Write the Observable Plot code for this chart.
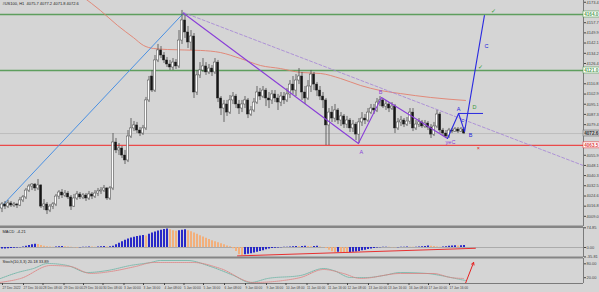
<!DOCTYPE html>
<html><head><meta charset="utf-8">
<script src="https://cdn.jsdelivr.net/npm/d3@7"></script>
<script src="https://cdn.jsdelivr.net/npm/@observablehq/plot@0.6"></script>
<style>
html,body{margin:0;padding:0;background:#d5d5d5;}
#chart{position:relative;width:599px;height:292px;background:#d5d5d5;overflow:hidden;}
#chart svg{position:absolute;left:0;overflow:visible;}
</style></head><body><div id="chart"></div>
<script>
// ---------- DATA ----------
const title = "#US100, H1  4075.7 4077.2 4071.8 4072.6";
const opens = [4015.0,4018.1,4016.5,4018.9,4017.3,4018.1,4017.3,4021.2,4023.5,4028.8,
4031.9,4033.4,4030.4,4032.7,4016.5,4018.1,4013.5,4016.5,4018.1,4024.2,
4027.3,4025.0,4026.5,4023.5,4016.5,4022.7,4025.8,4023.5,4025.0,4022.7,
4025.8,4024.2,4026.5,4028.1,4028.8,4030.4,4022.7,4030.4,4065.7,4059.6,
4061.1,4055.7,4051.9,4070.3,4076.5,4078.8,4074.9,4072.6,4076.5,4098.0,
4116.4,4105.6,4128.7,4136.4,4132.5,4128.7,4125.6,4123.3,4127.1,4124.1,
4144.0,4159.4,4150.2,4142.5,4147.1,4104.1,4117.2,4121.0,4124.1,4119.5,
4122.5,4119.5,4127.1,4099.5,4091.8,4094.9,4088.7,4098.0,4101.0,4094.9,
4091.8,4094.9,4098.0,4087.2,4090.3,4096.4,4104.1,4101.0,4105.6,4099.5,
4098.0,4102.6,4099.5,4096.4,4101.0,4098.0,4102.6,4110.2,4105.6,4113.3,
4116.4,4104.1,4099.5,4108.7,4117.9,4110.2,4105.6,4101.0,4098.0,4078.8,
4088.7,4084.1,4090.3,4082.6,4085.7,4079.5,4082.6,4076.5,4079.5,4071.8,
4081.1,4084.1,4082.6,4088.7,4091.8,4090.3,4096.4,4098.0,4093.3,4094.9,
4091.8,4093.3,4076.5,4081.1,4082.6,4079.5,4081.8,4088.7,4076.5,4079.5,
4081.1,4078.0,4080.3,4077.2,4071.8,4078.0,4087.2,4074.9,4072.6,4070.3,
4074.9,4074.1,4075.7,4074.1,4075.7];
const highs = [4019.6,4020.4,4021.2,4020.4,4019.6,4018.9,4023.5,4025.0,4030.4,4033.4,
4034.2,4034.2,4037.3,4033.4,4021.9,4019.6,4018.1,4019.6,4025.8,4028.8,
4029.6,4028.8,4028.1,4025.0,4025.8,4028.1,4027.3,4026.5,4026.5,4028.1,
4027.3,4028.8,4030.4,4031.1,4032.7,4031.1,4031.9,4072.6,4068.8,4064.9,
4062.6,4059.6,4074.9,4084.1,4081.8,4081.1,4077.2,4078.8,4100.3,4116.4,
4121.0,4132.5,4141.0,4139.4,4134.8,4131.0,4128.7,4130.2,4129.4,4151.7,
4167.1,4163.2,4154.8,4151.7,4149.4,4121.0,4127.1,4130.2,4127.1,4125.6,
4124.8,4130.2,4128.7,4101.0,4098.0,4098.0,4101.8,4104.1,4102.6,4098.0,
4098.0,4101.0,4099.5,4093.3,4099.5,4108.7,4107.2,4108.7,4107.2,4104.1,
4105.6,4105.6,4102.6,4104.1,4104.1,4107.2,4113.3,4116.4,4117.9,4122.5,
4119.5,4108.7,4113.3,4121.0,4119.5,4111.8,4108.7,4104.1,4099.5,4091.8,
4093.3,4094.9,4091.8,4088.7,4087.2,4085.7,4084.1,4082.6,4081.1,4084.1,
4088.7,4087.2,4091.8,4094.9,4094.9,4099.5,4101.0,4099.5,4098.0,4096.4,
4096.4,4094.9,4084.1,4085.7,4084.1,4084.9,4091.8,4091.8,4082.6,4084.1,
4082.6,4082.6,4081.8,4079.5,4081.1,4090.3,4088.7,4076.5,4074.9,4076.5,
4076.5,4077.2,4077.2,4077.2,4077.2];
const lows = [4011.9,4014.2,4015.0,4015.8,4015.8,4015.0,4016.5,4019.6,4021.9,4027.3,
4028.8,4028.1,4028.8,4015.0,4013.5,4010.4,4011.9,4014.2,4016.5,4021.9,
4022.7,4023.5,4021.9,4013.5,4015.8,4021.2,4021.9,4021.9,4020.4,4021.2,
4021.9,4022.7,4024.2,4025.8,4027.3,4021.2,4021.2,4028.8,4057.2,4055.7,
4053.4,4048.8,4050.3,4068.8,4074.1,4072.6,4070.3,4071.1,4074.9,4096.4,
4104.1,4104.1,4127.1,4130.2,4126.4,4123.3,4121.0,4121.0,4121.8,4122.5,
4141.0,4145.6,4137.9,4136.4,4099.5,4101.8,4114.9,4119.5,4117.2,4117.9,
4116.4,4117.9,4096.4,4086.4,4081.1,4085.7,4087.2,4094.9,4091.8,4087.2,
4088.7,4091.8,4084.1,4085.7,4088.7,4094.9,4098.0,4099.5,4093.3,4091.8,
4094.9,4096.4,4090.3,4093.3,4094.9,4096.4,4099.5,4102.6,4101.0,4110.2,
4098.0,4094.9,4098.0,4104.1,4105.6,4101.0,4098.0,4091.8,4063.4,4063.4,
4081.1,4081.1,4079.5,4078.0,4076.5,4076.5,4073.4,4073.4,4067.2,4064.9,
4078.0,4079.5,4081.1,4087.2,4087.2,4088.7,4093.3,4091.8,4090.3,4088.7,
4090.3,4072.6,4074.9,4078.0,4077.2,4078.0,4079.5,4074.1,4074.9,4077.2,
4076.5,4076.5,4074.9,4068.8,4070.3,4076.5,4072.6,4070.3,4068.8,4068.8,
4072.6,4073.4,4072.6,4073.4,4071.8];
const closes = [4018.1,4016.5,4018.9,4017.3,4018.1,4017.3,4021.2,4023.5,4028.8,4031.9,
4033.4,4030.4,4032.7,4016.5,4018.1,4013.5,4016.5,4018.1,4024.2,4027.3,
4025.0,4026.5,4023.5,4016.5,4022.7,4025.8,4023.5,4025.0,4022.7,4025.8,
4024.2,4026.5,4028.1,4028.8,4030.4,4022.7,4030.4,4065.7,4059.6,4061.1,
4055.7,4051.9,4070.3,4076.5,4078.8,4074.9,4072.6,4076.5,4098.0,4113.3,
4105.6,4128.7,4136.4,4132.5,4128.7,4125.6,4123.3,4127.1,4124.1,4144.0,
4159.4,4150.2,4142.5,4147.1,4104.1,4117.2,4121.0,4124.1,4119.5,4122.5,
4119.5,4127.1,4099.5,4091.8,4094.9,4088.7,4098.0,4101.0,4094.9,4091.8,
4094.9,4098.0,4087.2,4090.3,4096.4,4104.1,4101.0,4105.6,4099.5,4098.0,
4102.6,4099.5,4096.4,4101.0,4098.0,4102.6,4110.2,4105.6,4113.3,4116.4,
4104.1,4099.5,4108.7,4117.9,4110.2,4105.6,4101.0,4098.0,4078.8,4088.7,
4084.1,4090.3,4082.6,4085.7,4079.5,4082.6,4076.5,4079.5,4071.8,4081.1,
4084.1,4082.6,4088.7,4091.8,4090.3,4096.4,4098.0,4093.3,4094.9,4091.8,
4093.3,4076.5,4081.1,4082.6,4079.5,4081.8,4088.7,4076.5,4079.5,4081.1,
4078.0,4080.3,4077.2,4071.8,4078.0,4087.2,4074.9,4072.6,4070.3,4074.9,
4074.1,4075.7,4074.1,4075.7,4072.6];

// moving average curve: [bar, price]
const maBars   = [26.8, 32.8, 38.5, 43.8, 47.2, 50.5, 55.2, 66.2, 72.8, 79.5, 86.2, 92.8, 99.5, 106.2, 112.8, 119.5, 126.2, 132.8, 142.8, 154.5];
const maValues = [4177.8,4167.1,4155.6,4146.3,4140.2,4137.9,4137.1,4136.4,4134.8,4130.2,4124.8,4122.5,4119.5,4118.7,4114.9,4109.5,4105.6,4103.3,4100.3,4098.0];

const greenLevels = [4164.0, 4121.0];
const redLevels = [4063.5];
const bidPrice = 4072.6;
const priceTicks = [4173.4,4157.7,4149.9,4142.1,4134.2,4126.4,4110.8,4102.9,4095.1,4087.3,4079.4,4055.9,4048.1,4040.3,4032.5,4024.6,4016.8,4009.0];

// drawn trend lines (bar, price)
const blueTrendBars = [-0.5, 60.5], blueTrendPrices = [4015.8, 4165.0];
const purpleBars = [60.5, 118.8, 126.5, 148.5], purplePrices = [4165.0, 4064.9, 4100.3, 4068.8];
const dashBars = [60.5, 193.8], dashPrices = [4165.5, 4048.0];
const waveBars = [148.5, 152.2, 154.2, 160.8], wavePrices = [4068.8, 4088.0, 4074.1, 4163.2];
const waveFlatBars = [152.2, 160.2], waveFlatPrice = 4088.0;

const labelText   = ["A", "B", "yeC", "A", "c", "B", "D", "C", "✓", "✓", "×"];
const labelBars   = [119.8, 126.2, 149.5, 152.2, 153.5, 156.2, 157.5, 161.5, 163.8, 159.5, 158.8];
const labelPrices = [4058.0, 4104.1, 4065.7, 4091.0, 4082.6, 4071.1, 4092.6, 4139.4, 4166.3, 4123.3, 4061.1];
const labelColors = ["#8a3fd8","#8a3fd8","#8a3fd8","#2222dd","#2222dd","#2222dd","#3a9a3a","#2222dd","#2e9a2e","#2e9a2e","#e02020"];

// oscillator histogram
const aoValues = [-6,-5.5,-5,-4,-3,-2,-1,2,5,8,
10,12,11,8,5,3,2,1,2,3,
4,3,2,1,-1,-2,-1,0.5,1,2,
1.5,1,2,3,4,2,3,5,10,16,
22,28,32,36,39,42,44,46,44,50,
55,59,63,66,68,70,67,64,62,64,
66,67,64,60,55,50,45,40,35,30,
26,22,18,14,10,6,3,-5,-15,-28,
-30,-28,-26,-24,-21,-18,-15,-12,-9,-6,
-4,-3,-2,-1,0.5,1,2,3,4,3,
4,5,4,3,4,5,2,0,-4,-10,
-16,-20,-18,-21,-22,-23,-20,-18,-17,-15,
-12,-10,-8,-6,-4,-2,-1,0.5,1,0.5,
-0.5,-1,-0.5,0.5,1,2,1,0.5,1,2,
3,4,6,5,4,2,1,2,3,5,
6,7,6,7,8];
const aoLabel = "MACD  -4.21";
const aoTicks = [74.85, 0, -35.81];
const divBars = [78.5, 157.8], divValues = [-32, -3];

// stochastic lines
const stMainBars = [-0.5,5.2,10.5,15.2,21.8,28.5,35.2,42.8,49.5,52.8,61.8,69.5,77.2,82.8,88.5,99.5,107.2,110.5,116.2,121.8,127.2,132.8,141.8,146.2,152.8,154.5];
const stMainVals = [16.6,42.5,59.8,81.4,72.8,42.5,51.2,72.8,85.7,94.4,94.4,68.4,29.6,-0.7,16.6,29.6,59.8,51.2,20.9,20.9,29.6,42.5,38.2,29.6,12.3,8.0];
const stSigBars = [-0.5,6.2,16.2,22.8,29.5,36.2,44.5,50.5,63.8,72.8,83.8,93.8,99.5,107.2,113.8,119.5,132.8,143.8,149.5,153.8];
const stSigVals = [0,16.6,72.8,68.4,38.2,46.8,68.4,85.7,85.7,59.8,-0.7,8.0,20.9,55.5,38.2,16.6,38.2,38.2,20.9,16.6];
const stLabel = "Stoch(10,3,3) 20.18 33.89";
const stTicks = [80, 20];
const arrowFrom = [154.5, -4], arrowTo = [157.2, 86];

const dateTickBars = [0,7,13.5,20.5,27,33.5,40.5,47,54,60.5,67,74,81,88,94.5,101.5,108.5,115,122,128.5,135.5,142,149];
const dateLabels = ["27 Dec 2022","27 Dec 16:00","28 Dec 08:00","29 Dec 00:00","29 Dec 16:00","30 Dec 08:00","3 Jan 00:00","3 Jan 16:00","4 Jan 08:00","5 Jan 00:00","5 Jan 16:00","6 Jan 08:00","9 Jan 00:00","9 Jan 16:00","10 Jan 08:00","11 Jan 00:00","11 Jan 16:00","12 Jan 08:00","13 Jan 00:00","13 Jan 16:00","16 Jan 08:00","17 Jan 00:00","17 Jan 16:00"];

// ---------- BUILD ----------
const xDomain = [-0.5, 193.83];
const xEnd = xDomain[1];
const font = "'Liberation Sans', Arial, sans-serif";
const candles = closes.map((c, i) => ({i, o: opens[i], h: highs[i], l: lows[i], c}));
const zip = (xs, ys) => xs.map((x, k) => ({x, y: ys[k]}));
const ma = zip(maBars, maValues);
const labels = labelText.map((t, k) => ({t, x: labelBars[k], y: labelPrices[k], c: labelColors[k]}));
const boxes = [
  {v: greenLevels[0], c: "#4f9a4f", t: "4164.0", bg: "#ffffff"},
  {v: greenLevels[1], c: "#4f9a4f", t: "4121.0", bg: "#ffffff"},
  {v: bidPrice, c: "#777777", t: bidPrice.toFixed(1), bg: "#c8c8c8"},
  {v: redLevels[0], c: "#e03c3c", t: "4063.5", bg: "#ffffff"}
];
const baseStyle = {background: "transparent", color: "#333", fontFamily: font, fontSize: "4px", overflow: "visible"};

const main = Plot.plot({
  width: 599, height: 227, marginTop: 0, marginBottom: 1, marginLeft: 0, marginRight: 16,
  x: {domain: xDomain, axis: null},
  y: {domain: [4001.2, 4174.75], axis: null},
  style: baseStyle,
  marks: [
    Plot.ruleY([bidPrice], {stroke: "#b8b8b8", strokeWidth: 0.8}),
    Plot.ruleY(greenLevels, {stroke: "#5e9e5e", strokeWidth: 1.6}),
    Plot.ruleY(redLevels, {stroke: "#ea4a4a", strokeWidth: 1.3}),
    Plot.line(ma, {x: "x", y: "y", stroke: "#e2806e", strokeWidth: 0.9, curve: "monotone-x", clip: true}),
    Plot.line(zip(blueTrendBars, blueTrendPrices), {x: "x", y: "y", stroke: "#4a90e2", strokeWidth: 1}),
    Plot.line(zip(dashBars, dashPrices), {x: "x", y: "y", stroke: "#a382d6", strokeWidth: 0.8, strokeDasharray: "3,2"}),
    Plot.ruleX(candles, {x: "i", y1: "l", y2: "h", stroke: "#4a4a4a", strokeWidth: 0.8}),
    Plot.rect(candles, {x1: d => d.i - 0.36, x2: d => d.i + 0.36, y1: "o", y2: "c",
      fill: d => d.c >= d.o ? "#ffffff" : "#151515", stroke: "#222", strokeWidth: 0.4}),
    Plot.line(zip(purpleBars, purplePrices), {x: "x", y: "y", stroke: "#8a3fd8", strokeWidth: 1.1}),
    Plot.line(zip(waveBars, wavePrices), {x: "x", y: "y", stroke: "#2a2ae0", strokeWidth: 1.1}),
    Plot.line(zip(waveFlatBars, [waveFlatPrice, waveFlatPrice]), {x: "x", y: "y", stroke: "#2a2ae0", strokeWidth: 1}),
    Plot.text(labels, {x: "x", y: "y", text: "t", fill: "c", fontSize: 5.5}),
    Plot.ruleX([xEnd], {stroke: "#7a7a7a", strokeWidth: 1}),
    Plot.axisY(priceTicks, {anchor: "right", tickSize: 2, tickPadding: 1, fontSize: 4, tickFormat: d => d.toFixed(1), color: "#444"}),
    Plot.rect(boxes, {x1: xEnd, x2: xEnd + 5.4, y1: d => d.v - 2.3, y2: d => d.v + 2.3, fill: "bg", stroke: "c", strokeWidth: 0.6}),
    Plot.text(boxes, {x: xEnd + 0.25, y: "v", text: "t", fill: d => d.c === "#777777" ? "#333" : d.c, textAnchor: "start", fontSize: 4.6, fontWeight: "bold"}),
    Plot.ruleY([4001.2], {stroke: "#858585", strokeWidth: 2}),
    Plot.text([title], {frameAnchor: "top-left", dx: 2, dy: 1.5, fontSize: 4, fill: "#222"})
  ]
});
main.style.top = "0px";

const ao = aoValues.map((v, i) => ({i, v, up: i === 0 || v > aoValues[i - 1]}));
const panel1 = Plot.plot({
  width: 599, height: 32, marginTop: 1, marginBottom: 1, marginLeft: 0, marginRight: 16,
  x: {domain: xDomain, axis: null},
  y: {domain: [-38, 76], axis: null},
  style: baseStyle,
  marks: [
    Plot.ruleY([0], {stroke: "#a0a0a0", strokeWidth: 0.8}),
    Plot.ruleX(ao, {x: "i", y1: 0, y2: "v", stroke: d => d.up ? "#2020c8" : "#f4ae78", strokeWidth: 1.9}),
    Plot.line(zip(divBars, divValues), {x: "x", y: "y", stroke: "#e83030", strokeWidth: 1}),
    Plot.ruleX([xEnd], {stroke: "#7a7a7a", strokeWidth: 1}),
    Plot.axisY(aoTicks, {anchor: "right", tickSize: 2, tickPadding: 1, fontSize: 4, tickFormat: d => d.toFixed(2), color: "#444"}),
    Plot.text([aoLabel], {frameAnchor: "top-left", dx: 2, dy: 3, fontSize: 4, fill: "#222"}),
    Plot.ruleY([76], {stroke: "#858585", strokeWidth: 1.2}),
    Plot.ruleY([-38], {stroke: "#858585", strokeWidth: 2})
  ]
});
panel1.style.top = "226px";

const labelMap = new Map(dateTickBars.map((b, k) => [b, dateLabels[k]]));
const panel2 = Plot.plot({
  width: 599, height: 35, marginTop: 1, marginBottom: 9, marginLeft: 0, marginRight: 16,
  x: {domain: xDomain},
  y: {domain: [-5, 103], axis: null},
  style: baseStyle,
  marks: [
    Plot.line(zip(stMainBars, stMainVals), {x: "x", y: "y", stroke: "#5fb0a0", strokeWidth: 0.8, strokeDasharray: "1,1", curve: "monotone-x"}),
    Plot.line(zip(stSigBars, stSigVals), {x: "x", y: "y", stroke: "#e07a7a", strokeWidth: 0.8, strokeDasharray: "1,1", curve: "monotone-x"}),
    Plot.arrow([{x1: arrowFrom[0], y1: arrowFrom[1], x2: arrowTo[0], y2: arrowTo[1]}], {x1: "x1", y1: "y1", x2: "x2", y2: "y2", stroke: "#e52020", strokeWidth: 1, headLength: 4}),
    Plot.ruleX([xEnd], {stroke: "#7a7a7a", strokeWidth: 1}),
    Plot.axisY(stTicks, {anchor: "right", tickSize: 2, tickPadding: 1, fontSize: 4, tickFormat: d => d.toFixed(2), color: "#444"}),
    Plot.text([stLabel], {frameAnchor: "top-left", dx: 2, dy: 2, fontSize: 4, fill: "#222"}),
    Plot.ruleY([-5], {stroke: "#7a7a7a", strokeWidth: 1}),
    Plot.axisX(dateTickBars, {anchor: "bottom", tickSize: 2, tickPadding: 1, fontSize: 3.2, textAnchor: "start", dx: 0.5, tickFormat: d => labelMap.get(d), color: "#444"})
  ]
});
panel2.style.top = "257px";

const root = document.getElementById("chart");
root.append(main, panel1, panel2);
</script>
</body></html>
